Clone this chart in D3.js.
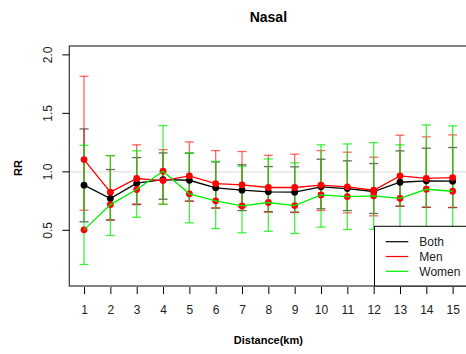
<!DOCTYPE html>
<html>
<head>
<meta charset="utf-8">
<script src="https://cdn.jsdelivr.net/npm/d3@7"></script>
<style>
  body { margin: 0; background: #fff; }
  svg { display: block; font-family: "Liberation Sans", Arial, sans-serif; }
</style>
</head>
<body>
<div id="plot"></div>
<script>
// values
var distance = [1, 2, 3, 4, 5, 6, 7, 8, 9, 10, 11, 12, 13, 14, 15];

var bothRR = [0.886, 0.772, 0.903, 0.934, 0.928, 0.863, 0.843, 0.829, 0.826, 0.872, 0.857, 0.832, 0.911, 0.923, 0.920];
var bothLo = [0.573, 0.590, 0.720, 0.766, 0.750, 0.690, 0.669, 0.660, 0.655, 0.684, 0.669, 0.644, 0.706, 0.697, 0.695];
var bothHi = [1.367, 1.020, 1.122, 1.162, 1.160, 1.085, 1.060, 1.045, 1.043, 1.108, 1.094, 1.071, 1.179, 1.202, 1.208];

var menRR = [1.105, 0.826, 0.943, 0.925, 0.966, 0.900, 0.889, 0.866, 0.866, 0.886, 0.872, 0.843, 0.966, 0.945, 0.951];
var menLo = [0.672, 0.586, 0.726, 0.723, 0.749, 0.692, 0.701, 0.655, 0.652, 0.669, 0.649, 0.624, 0.706, 0.697, 0.695];
var menHi = [1.817, 1.139, 1.231, 1.190, 1.256, 1.182, 1.174, 1.142, 1.151, 1.182, 1.168, 1.125, 1.313, 1.299, 1.316];

var womenRR = [0.504, 0.720, 0.849, 1.005, 0.812, 0.752, 0.709, 0.738, 0.712, 0.803, 0.789, 0.795, 0.774, 0.851, 0.834];
var womenLo = [0.208, 0.456, 0.612, 0.723, 0.564, 0.515, 0.479, 0.492, 0.473, 0.527, 0.507, 0.509, 0.484, 0.518, 0.507];
var womenHi = [1.227, 1.139, 1.180, 1.396, 1.162, 1.090, 1.048, 1.111, 1.077, 1.231, 1.239, 1.250, 1.231, 1.401, 1.393];

var yTicks = [0.5, 1.0, 1.5, 2.0];
var legendLabels = ["Both", "Men", "Women"];

function rows(rr, lo, hi) {
    return distance.map(function(d, i) { return {x: d, rr: rr[i], lo: lo[i], hi: hi[i]}; });
}

var series = [
    {name: "Both", color: "#000", point: "#000", alpha: 0.6, data: rows(bothRR, bothLo, bothHi)},
    {name: "Men", color: "#ff0000", point: "#ff0000", alpha: 0.6, data: rows(menRR, menLo, menHi)},
    {name: "Women", color: "#00ee00", point: "#ff0000", alpha: 0.75, data: rows(womenRR, womenLo, womenHi)}
];

const total_width = 466
const total_height = 354
const box = {left: 69.3, right: 467.4, top: 46, bottom: 286}

var svg = d3.select("#plot").append("svg").attr("width", total_width).attr("height", total_height);
svg.append("rect").attr("width", total_width).attr("height", total_height).attr("fill", "#fff");

var x = d3.scaleLinear().domain([0.44, 15.56]).range([box.left, box.right]);
var y = d3.scaleLinear().domain([0.024, 2.076]).range([box.bottom, box.top]);

// reference line at RR = 1
svg.append("line").attr("x1", box.left).attr("x2", box.right)
    .attr("y1", y(1)).attr("y2", y(1)).attr("stroke", "#e0e0e0").attr("stroke-width", 1.2);

// error bars
series.forEach(function(s) {
    var g = svg.append("g").attr("stroke", s.color).attr("stroke-opacity", s.alpha).attr("stroke-width", 1.3);
    s.data.forEach(function(d) {
        g.append("line").attr("x1", x(d.x)).attr("x2", x(d.x)).attr("y1", y(d.lo)).attr("y2", y(d.hi));
        g.append("line").attr("x1", x(d.x) - 4.5).attr("x2", x(d.x) + 4.5).attr("y1", y(d.lo)).attr("y2", y(d.lo));
        g.append("line").attr("x1", x(d.x) - 4.5).attr("x2", x(d.x) + 4.5).attr("y1", y(d.hi)).attr("y2", y(d.hi));
    });
});

// lines and points
var line = d3.line().x(function(d) { return x(d.x); }).y(function(d) { return y(d.rr); });
series.forEach(function(s) {
    svg.append("g").selectAll("circle").data(s.data).enter().append("circle")
        .attr("cx", function(d) { return x(d.x); }).attr("cy", function(d) { return y(d.rr); })
        .attr("r", 3.4).attr("fill", s.point);
    svg.append("path").datum(s.data).attr("d", line)
        .attr("fill", "none").attr("stroke", s.color).attr("stroke-width", 1.3);
});

// plot box
svg.append("rect").attr("x", box.left).attr("y", box.top)
    .attr("width", box.right - box.left).attr("height", box.bottom - box.top)
    .attr("fill", "none").attr("stroke", "#333").attr("stroke-width", 1.2);

// x axis
var xAxis = d3.axisBottom(x).tickValues(distance).tickSize(7).tickPadding(11).tickFormat(d3.format("d"));
var gx = svg.append("g").attr("transform", "translate(0," + (box.bottom + 1) + ")").call(xAxis);
gx.select(".domain").remove();
gx.selectAll("text").style("font-size", "12px").attr("fill", "#222");

// y axis
var gy = svg.append("g");
gy.selectAll("line").data(yTicks).enter().append("line")
    .attr("x1", box.left).attr("x2", box.left - 7)
    .attr("y1", function(d) { return y(d); }).attr("y2", function(d) { return y(d); })
    .attr("stroke", "#000");
gy.selectAll("text").data(yTicks).enter().append("text")
    .attr("transform", function(d) { return "translate(51.5," + y(d) + ") rotate(-90)"; })
    .attr("text-anchor", "middle").style("font-size", "12px").attr("fill", "#222")
    .text(function(d) { return d.toFixed(1); });

// titles
var cx = (box.left + box.right) / 2;
svg.append("text").attr("x", cx).attr("y", 21.7).attr("text-anchor", "middle")
    .style("font-size", "14px").style("font-weight", "bold").text("Nasal");
svg.append("text").attr("x", cx).attr("y", 343.5).attr("text-anchor", "middle")
    .style("font-size", "11px").style("font-weight", "bold").text("Distance(km)");
svg.append("text").attr("transform", "translate(21.5,168) rotate(-90)").attr("text-anchor", "middle")
    .style("font-size", "11px").style("font-weight", "bold").text("RR");

// legend
var legend = svg.append("g");
legend.append("rect").attr("x", 374.5).attr("y", 226.3).attr("width", 100).attr("height", box.bottom - 226.3)
    .attr("fill", "#fff").attr("stroke", "#000").attr("stroke-width", 1);
legend.selectAll("line").data(series).enter().append("line")
    .attr("x1", 385.7).attr("x2", 408.3)
    .attr("y1", function(d, i) { return 241.7 + i * 14.8; }).attr("y2", function(d, i) { return 241.7 + i * 14.8; })
    .attr("stroke", function(d) { return d.color; }).attr("stroke-width", 1.2);
legend.selectAll("text").data(legendLabels).enter().append("text")
    .attr("x", 419.3).attr("y", function(d, i) { return 246 + i * 14.8; })
    .style("font-size", "12px").attr("fill", "#222").text(function(d) { return d; });
</script>
</body>
</html>
